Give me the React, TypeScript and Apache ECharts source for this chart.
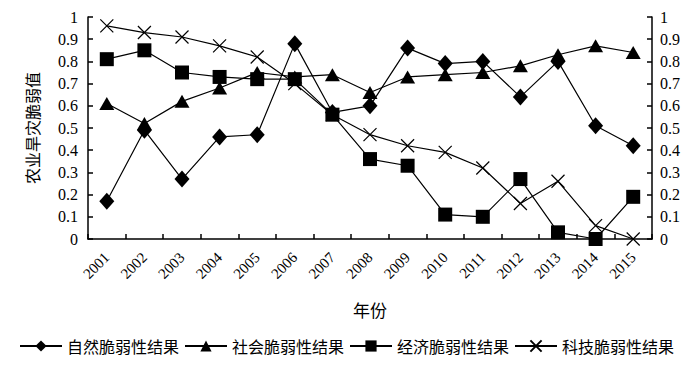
import React, { useEffect, useRef } from "react";
import * as echarts from "echarts";

const years = ["2001","2002","2003","2004","2005","2006","2007","2008","2009","2010","2011","2012","2013","2014","2015"];
const natural = [0.17,0.49,0.27,0.46,0.47,0.88,0.57,0.60,0.86,0.79,0.80,0.64,0.80,0.51,0.42];
const social = [0.61,0.52,0.62,0.68,0.75,0.73,0.74,0.66,0.73,0.74,0.75,0.78,0.83,0.87,0.84];
const economic = [0.81,0.85,0.75,0.73,0.72,0.72,0.56,0.36,0.33,0.11,0.10,0.27,0.03,0.00,0.19];
const tech = [0.96,0.93,0.91,0.87,0.82,0.70,0.56,0.47,0.42,0.39,0.32,0.16,0.26,0.06,0.00];
const names = ["自然脆弱性结果","社会脆弱性结果","经济脆弱性结果","科技脆弱性结果"];

const serif = "Liberation Serif";
const cjk = "Noto Sans CJK SC";

export default function App() {
  const ref = useRef<HTMLDivElement>(null);
  useEffect(() => {
    const chart = echarts.init(ref.current!, null, { renderer: "svg" });
    const yAxisBase = {
      type: "value",
      min: 0,
      max: 1,
      interval: 0.1,
      splitLine: { show: false },
      axisLine: { show: true, lineStyle: { color: "#000", width: 1.5 } },
      axisTick: { show: true, inside: true, length: 5, lineStyle: { color: "#000", width: 1.5 } },
      axisLabel: {
        color: "#000",
        fontFamily: serif,
        fontSize: 16,
        formatter: (v: number) => String(Math.round(v * 10) / 10),
      },
    };
    const lineStyle = { color: "#000", width: 1.2 };
    chart.setOption({
      animation: false,
      backgroundColor: "#fff",
      grid: { left: 88, right: 48, top: 17, bottom: 132 },
      legend: {
        left: 14,
        top: 333,
        itemWidth: 42,
        itemHeight: 14,
        itemGap: 5,
        textStyle: { color: "#000", fontFamily: cjk, fontSize: 16 },
        data: names,
      },
      xAxis: {
        type: "category",
        data: years,
        boundaryGap: true,
        name: "年份",
        nameLocation: "middle",
        nameGap: 62,
        nameTextStyle: { color: "#000", fontFamily: cjk, fontSize: 17 },
        axisLine: { lineStyle: { color: "#000", width: 1.5 } },
        axisTick: { show: true, inside: true, length: 5, alignWithLabel: false, lineStyle: { color: "#000", width: 1.5 } },
        axisLabel: { color: "#000", fontFamily: serif, fontSize: 15, rotate: 45, margin: 16, interval: 0 },
      },
      yAxis: [
        {
          ...yAxisBase,
          position: "left",
          name: "农业旱灾脆弱值",
          nameLocation: "middle",
          nameRotate: 90,
          nameGap: 48,
          nameTextStyle: { color: "#000", fontFamily: cjk, fontSize: 16 },
          axisLabel: { ...yAxisBase.axisLabel, margin: 10 },
        },
        {
          ...yAxisBase,
          position: "right",
          axisLabel: { ...yAxisBase.axisLabel, margin: 8 },
        },
      ],
      series: [
        {
          name: names[0], type: "line", data: natural, yAxisIndex: 0,
          symbol: "diamond", symbolSize: [15, 17],
          itemStyle: { color: "#000" }, lineStyle,
        },
        {
          name: names[1], type: "line", data: social, yAxisIndex: 0,
          symbol: "triangle", symbolSize: [15, 13],
          itemStyle: { color: "#000" }, lineStyle,
        },
        {
          name: names[2], type: "line", data: economic, yAxisIndex: 0,
          symbol: "rect", symbolSize: 14,
          itemStyle: { color: "#000" }, lineStyle,
        },
        {
          name: names[3], type: "line", data: tech, yAxisIndex: 0,
          symbol: "path://M0,0L10,10M10,0L0,10", symbolSize: 13,
          itemStyle: { color: "#000", borderColor: "#000", borderWidth: 1.2 }, lineStyle,
        },
      ],
    });
    return () => chart.dispose();
  }, []);
  return <div ref={ref} style={{ width: 700, height: 371, margin: -8 }} />;
}
